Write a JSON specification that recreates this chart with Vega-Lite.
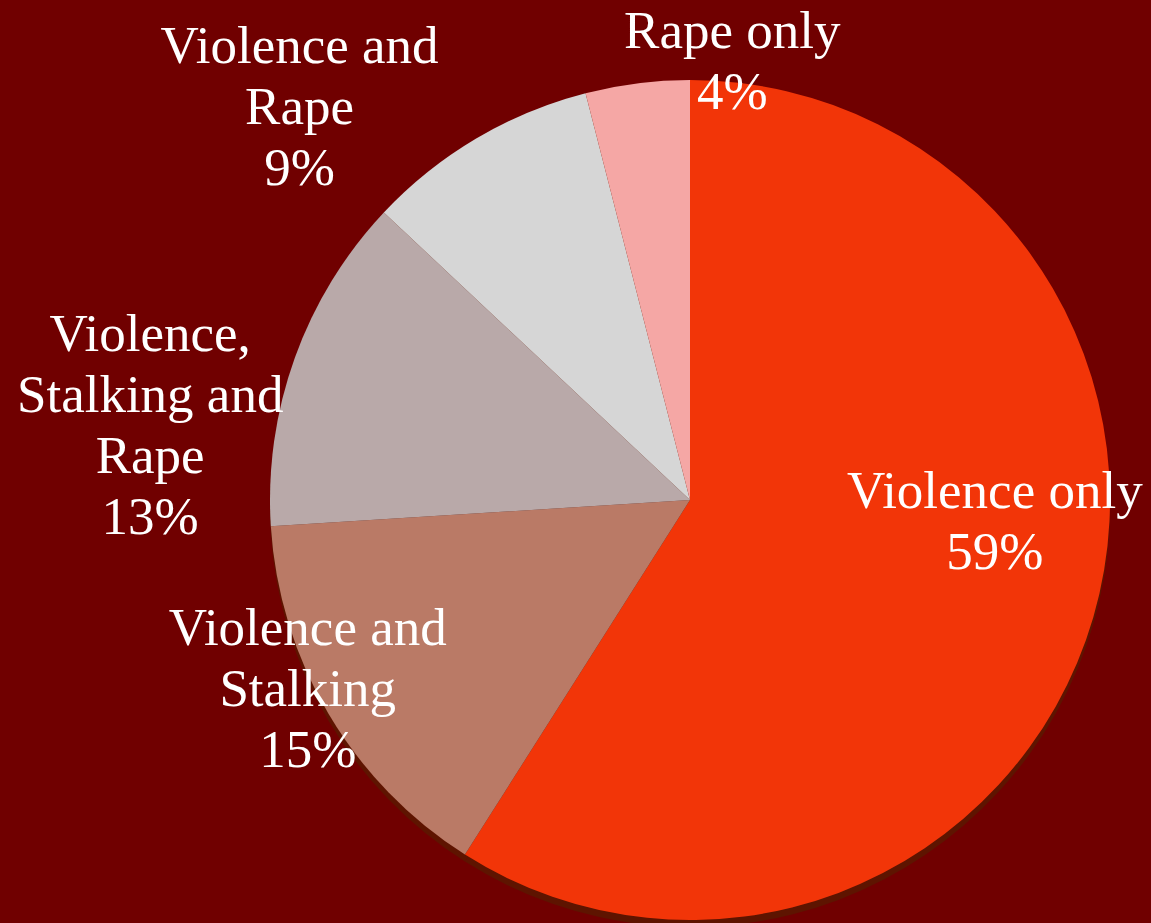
{
  "$schema": "https://vega.github.io/schema/vega-lite/v6.json",
  "width": 900,
  "height": 846,
  "autosize": {"type": "none"},
  "padding": {"left": 240, "top": 77, "right": 11, "bottom": 0},
  "background": "#700000",
  "config": {"view": {"stroke": null}},
  "data": {
    "values": [
      {"category": "Violence only", "percent": 59, "label": "Violence only\n59%"},
      {"category": "Violence and Stalking", "percent": 15, "label": "Violence and\nStalking\n15%"},
      {"category": "Violence, Stalking and Rape", "percent": 13, "label": "Violence,\nStalking and\nRape\n13%"},
      {"category": "Violence and Rape", "percent": 9, "label": "Violence and\nRape\n9%"},
      {"category": "Rape only", "percent": 4, "label": "Rape only\n4%"}
    ]
  },
  "encoding": {
    "theta": {"field": "percent", "type": "quantitative", "stack": true},
    "order": {"field": "percent", "type": "quantitative", "sort": "descending"}
  },
  "layer": [
    {
      "mark": {"type": "arc", "radius": 420, "yOffset": 7, "fill": "#5e1400"}
    },
    {
      "mark": {"type": "arc", "radius": 420},
      "encoding": {
        "color": {
          "field": "category",
          "type": "nominal",
          "scale": {
            "domain": ["Violence only", "Violence and Stalking", "Violence, Stalking and Rape", "Violence and Rape", "Rape only"],
            "range": ["#F23508", "#BA7A66", "#B9A9A9", "#D6D6D6", "#F5A7A5"]
          },
          "legend": null
        }
      }
    },
    {
      "mark": {"type": "text", "radius": 306, "dx": 11, "dy": -93, "font": "Liberation Serif", "fontSize": 53, "lineHeight": 61, "fill": "white", "lineBreak": "\n", "align": "center", "baseline": "middle"},
      "encoding": {"text": {"condition": {"test": "datum.category === 'Violence only'", "field": "label"}, "value": ""}}
    },
    {
      "mark": {"type": "text", "radius": 429, "dx": -13, "dy": -89, "font": "Liberation Serif", "fontSize": 53, "lineHeight": 61, "fill": "white", "lineBreak": "\n", "align": "center", "baseline": "middle"},
      "encoding": {"text": {"condition": {"test": "datum.category === 'Violence and Stalking'", "field": "label"}, "value": ""}}
    },
    {
      "mark": {"type": "text", "radius": 544, "dx": -28, "dy": 19, "font": "Liberation Serif", "fontSize": 53, "lineHeight": 61, "fill": "white", "lineBreak": "\n", "align": "center", "baseline": "middle"},
      "encoding": {"text": {"condition": {"test": "datum.category === 'Violence, Stalking and Rape'", "field": "label"}, "value": ""}}
    },
    {
      "mark": {"type": "text", "radius": 549, "dx": -111, "dy": 20, "font": "Liberation Serif", "fontSize": 53, "lineHeight": 61, "fill": "white", "lineBreak": "\n", "align": "center", "baseline": "middle"},
      "encoding": {"text": {"condition": {"test": "datum.category === 'Violence and Rape'", "field": "label"}, "value": ""}}
    },
    {
      "mark": {"type": "text", "radius": 437, "dx": 97, "dy": -34, "font": "Liberation Serif", "fontSize": 53, "lineHeight": 61, "fill": "white", "lineBreak": "\n", "align": "center", "baseline": "middle"},
      "encoding": {"text": {"condition": {"test": "datum.category === 'Rape only'", "field": "label"}, "value": ""}}
    }
  ]
}
